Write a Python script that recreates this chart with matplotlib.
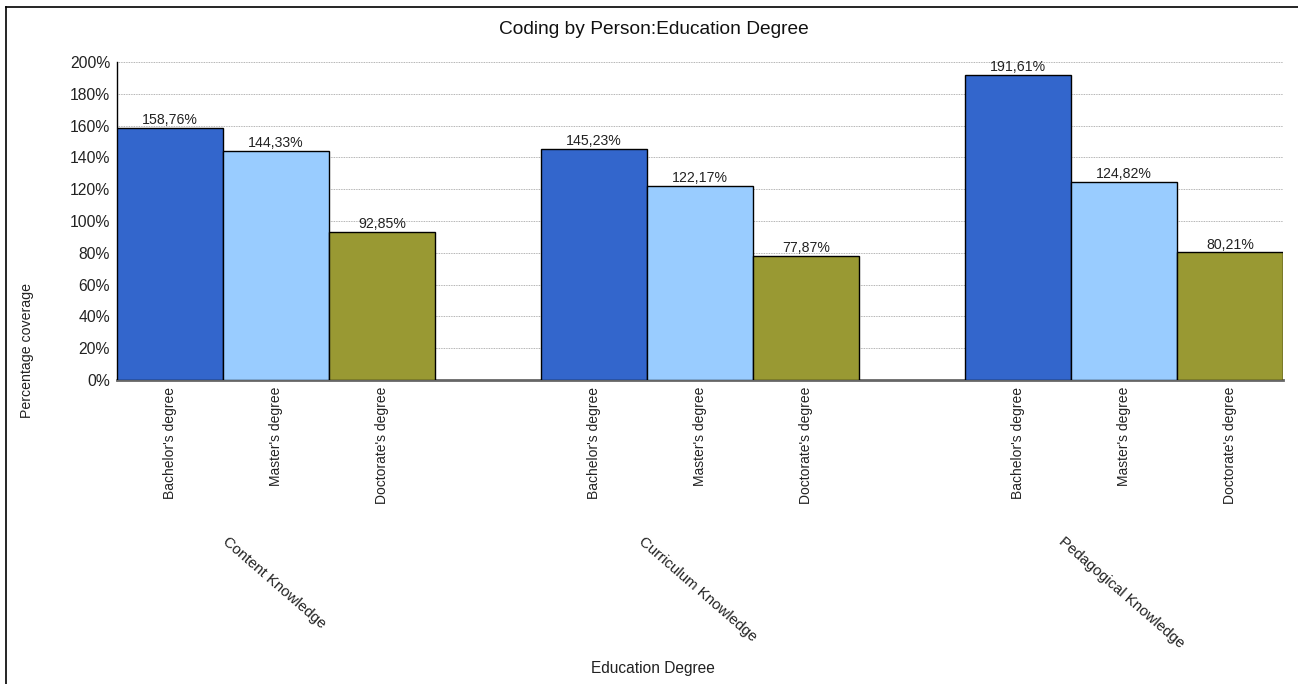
import numpy as np
import matplotlib.pyplot as plt
from matplotlib.lines import Line2D

plt.rcParams['font.family'] = ['Liberation Sans', 'DejaVu Sans']

TITLE = "Coding by Person:Education Degree"
GROUPS = ["Content Knowledge", "Curriculum Knowledge", "Pedagogical Knowledge"]
DEGREES = ["Bachelor's degree", "Master's degree", "Doctorate's degree"]
COLORS = ['#3366CC', '#99CCFF', '#999933']

bachelor = [158.76, 145.23, 191.61]
master = [144.33, 122.17, 124.82]
doctorate = [92.85, 77.87, 80.21]
values = [bachelor, master, doctorate]

yticks = [0, 20, 40, 60, 80, 100, 120, 140, 160, 180, 200]

fig = plt.figure(figsize=(12.98, 6.84), dpi=100)
ax = fig.add_axes([117/1298, 1 - 380/684, (1283-117)/1298, 318/684])

xpos = []
xlabels = []
for g in range(len(GROUPS)):
	for d in range(len(DEGREES)):
		x = g * (len(DEGREES) + 1) + d
		v = values[d][g]
		ax.bar(x, v, width=1.0, color=COLORS[d], edgecolor='black', linewidth=1, zorder=3)
		ax.text(x, v + 0.6, ("%.2f%%" % v).replace('.', ','), ha='center', va='bottom',
			fontsize=10.2, color='#222222', zorder=4)
		xpos.append(x)
		xlabels.append(DEGREES[d])
	mid = g * (len(DEGREES) + 1) + 1
	ax.text(mid - 0.02, -0.487, GROUPS[g], rotation=-41, ha='center', va='top', fontsize=10.8,
		color='#222222', transform=ax.get_xaxis_transform())

ax.set_xlim(-0.5, 10.5)
ax.set_ylim(0, 200)
ax.set_yticks(yticks)
ax.set_yticklabels(["%d%%" % t for t in yticks], fontsize=11.3, color='#222222')
ax.set_xticks(xpos)
ax.set_xticklabels(xlabels, rotation=90, fontsize=10, color='#222222', va='top')
ax.tick_params(axis='x', length=0, pad=5)
ax.tick_params(axis='y', length=0, pad=5)
ax.yaxis.grid(True, linestyle=(0, (1, 1)), color='#9a9a9a', linewidth=0.6, zorder=0)
ax.set_axisbelow(True)

for s in ['top', 'right']:
	ax.spines[s].set_visible(False)
ax.spines['left'].set_color('black')
ax.spines['left'].set_linewidth(1)
ax.spines['bottom'].set_color('#666666')
ax.spines['bottom'].set_linewidth(2)

fig.text(654/1298, 1 - 30/684, TITLE, ha='center', va='center', fontsize=13.8, color='#111111')
fig.text(653/1298, 1 - 668/684, "Education Degree", ha='center', va='center', fontsize=11.2, color='#222222')
fig.text(27/1298, 1 - 350/684, "Percentage coverage", ha='center', va='center', rotation=90,
	fontsize=10.2, color='#222222')

# frame lines at top and left of the picture
fig.add_artist(Line2D([6/1298, 1], [1 - 7/684, 1 - 7/684], color='black', linewidth=1.2))
fig.add_artist(Line2D([6/1298, 6/1298], [0, 1 - 7/684], color='black', linewidth=1.2))

fig.savefig('out.png', dpi=100)
